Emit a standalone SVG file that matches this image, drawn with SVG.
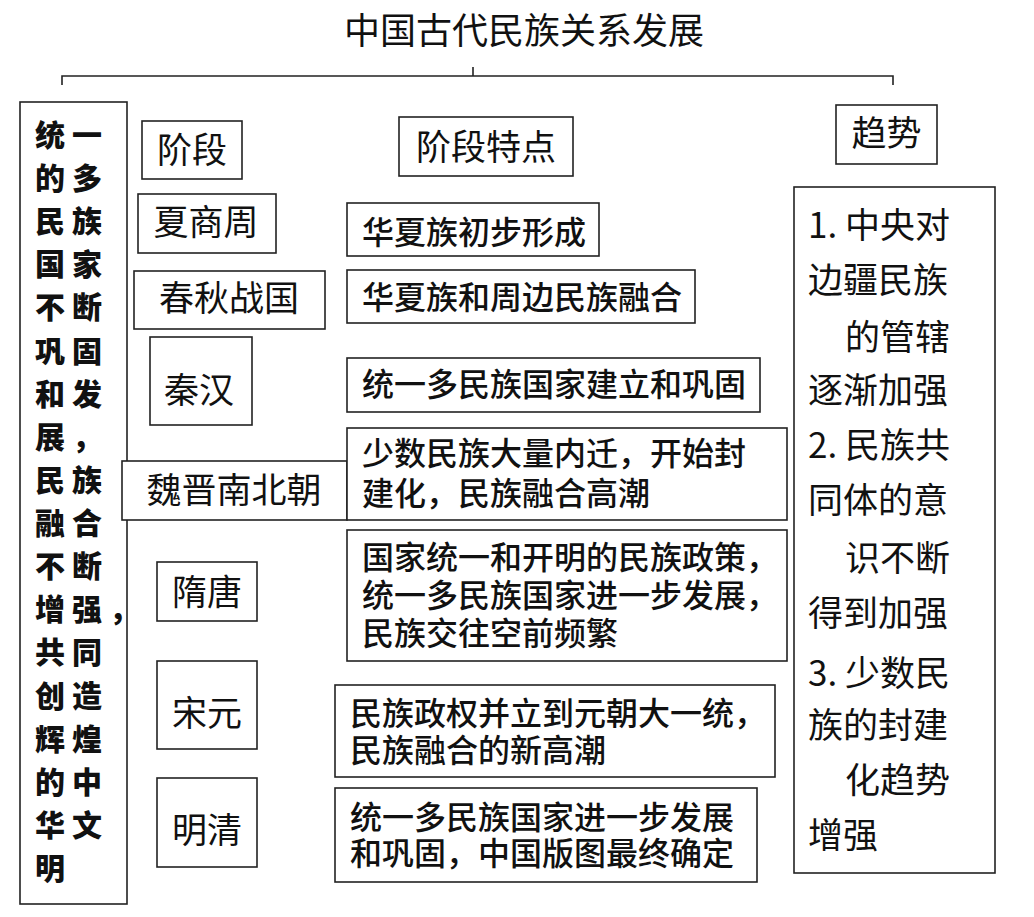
<svg xmlns="http://www.w3.org/2000/svg" width="1034" height="917" viewBox="0 0 1034 917">
<style>
.box{fill:#fff;stroke:#222;stroke-width:1.6}
.t{font-family:"Noto Sans CJK SC","Noto Sans",sans-serif;fill:#111}
.title{font-size:36px}
.stage{font-size:35px;text-anchor:middle}
.feat{font-size:32px;font-weight:500}
.trend{font-size:35px}
.left{font-size:30px;font-weight:900;letter-spacing:7px}
.conn{fill:none;stroke:#222;stroke-width:1.6}
</style>
<rect width="1034" height="917" fill="#fff"/>
<g id="title"><text class="t title" x="524" y="44" text-anchor="middle">中国古代民族关系发展</text></g>
<g id="connectors">
<path class="conn" d="M62,85 V76 H893 V85"/>
<path class="conn" d="M473,67 V76"/>
</g>
<g id="summary">
<rect class="box" x="20" y="102" width="107" height="802"/>
<text class="t left" x="35" y="146">统一</text>
<text class="t left" x="35" y="189">的多</text>
<text class="t left" x="35" y="232">民族</text>
<text class="t left" x="35" y="275">国家</text>
<text class="t left" x="35" y="318">不断</text>
<text class="t left" x="35" y="362">巩固</text>
<text class="t left" x="35" y="405">和发</text>
<text class="t left" x="35" y="448">展，</text>
<text class="t left" x="35" y="491">民族</text>
<text class="t left" x="35" y="534">融合</text>
<text class="t left" x="35" y="577">不断</text>
<text class="t left" x="35" y="620">增强，</text>
<text class="t left" x="35" y="663">共同</text>
<text class="t left" x="35" y="707">创造</text>
<text class="t left" x="35" y="750">辉煌</text>
<text class="t left" x="35" y="793">的中</text>
<text class="t left" x="35" y="836">华文</text>
<text class="t left" x="35" y="879">明</text>
</g>
<g id="h-stage"><rect class="box" x="142" y="121" width="100" height="58"/><text class="t stage" x="192" y="163">阶段</text></g>
<g id="h-feature"><rect class="box" x="399" y="117" width="174" height="59"/><text class="t stage" x="486" y="160">阶段特点</text></g>
<g id="h-trend"><rect class="box" x="836" y="105" width="101" height="59"/><text class="t stage" x="886.5" y="146">趋势</text></g>
<g id="s-xsz"><rect class="box" x="138" y="194" width="138" height="59"/><text class="t stage" x="206" y="235">夏商周</text></g>
<g id="s-cqzg"><rect class="box" x="134" y="271" width="191" height="58"/><text class="t stage" x="229" y="311">春秋战国</text></g>
<g id="s-qh"><rect class="box" x="150" y="337" width="102" height="88"/><text class="t stage" x="199" y="403">秦汉</text></g>
<g id="s-wjnbc"><rect class="box" x="122" y="461" width="225" height="59"/><text class="t stage" x="234" y="503">魏晋南北朝</text></g>
<g id="s-st"><rect class="box" x="157" y="562" width="100" height="59"/><text class="t stage" x="207" y="605">隋唐</text></g>
<g id="s-sy"><rect class="box" x="157" y="661" width="100" height="88"/><text class="t stage" x="207" y="726">宋元</text></g>
<g id="s-mq"><rect class="box" x="157" y="778" width="100" height="89"/><text class="t stage" x="207" y="843">明清</text></g>
<g id="f-xsz"><rect class="box" x="347" y="203" width="252" height="53"/><text class="t feat" x="362" y="244">华夏族初步形成</text></g>
<g id="f-cqzg"><rect class="box" x="347" y="270" width="348" height="53"/><text class="t feat" x="362" y="309">华夏族和周边民族融合</text></g>
<g id="f-qh"><rect class="box" x="347" y="358" width="413" height="54"/><text class="t feat" x="362" y="396">统一多民族国家建立和巩固</text></g>
<g id="f-wjnbc"><rect class="box" x="347" y="428" width="440" height="92"/><text class="t feat" x="362" y="465">少数民族大量内迁，开始封</text><text class="t feat" x="362" y="505">建化，民族融合高潮</text></g>
<g id="f-st"><rect class="box" x="347" y="530" width="440" height="131"/><text class="t feat" x="362" y="569">国家统一和开明的民族政策，</text><text class="t feat" x="362" y="607">统一多民族国家进一步发展，</text><text class="t feat" x="362" y="645">民族交往空前频繁</text></g>
<g id="f-sy"><rect class="box" x="335" y="685" width="440" height="92"/><text class="t feat" x="350" y="725">民族政权并立到元朝大一统，</text><text class="t feat" x="350" y="762">民族融合的新高潮</text></g>
<g id="f-mq"><rect class="box" x="335" y="788" width="422" height="94"/><text class="t feat" x="350" y="829">统一多民族国家进一步发展</text><text class="t feat" x="350" y="865">和巩固，中国版图最终确定</text></g>
<g id="trend">
<rect class="box" x="794" y="187" width="201" height="686"/>
<text class="t trend" x="808" y="238">1. 中央对</text>
<text class="t trend" x="808" y="293">边疆民族</text>
<text class="t trend" x="845" y="350">的管辖</text>
<text class="t trend" x="808" y="403">逐渐加强</text>
<text class="t trend" x="808" y="458">2. 民族共</text>
<text class="t trend" x="808" y="513">同体的意</text>
<text class="t trend" x="845" y="571">识不断</text>
<text class="t trend" x="808" y="626">得到加强</text>
<text class="t trend" x="808" y="686">3. 少数民</text>
<text class="t trend" x="808" y="738">族的封建</text>
<text class="t trend" x="845" y="793">化趋势</text>
<text class="t trend" x="808" y="848">增强</text>
</g>
</svg>
